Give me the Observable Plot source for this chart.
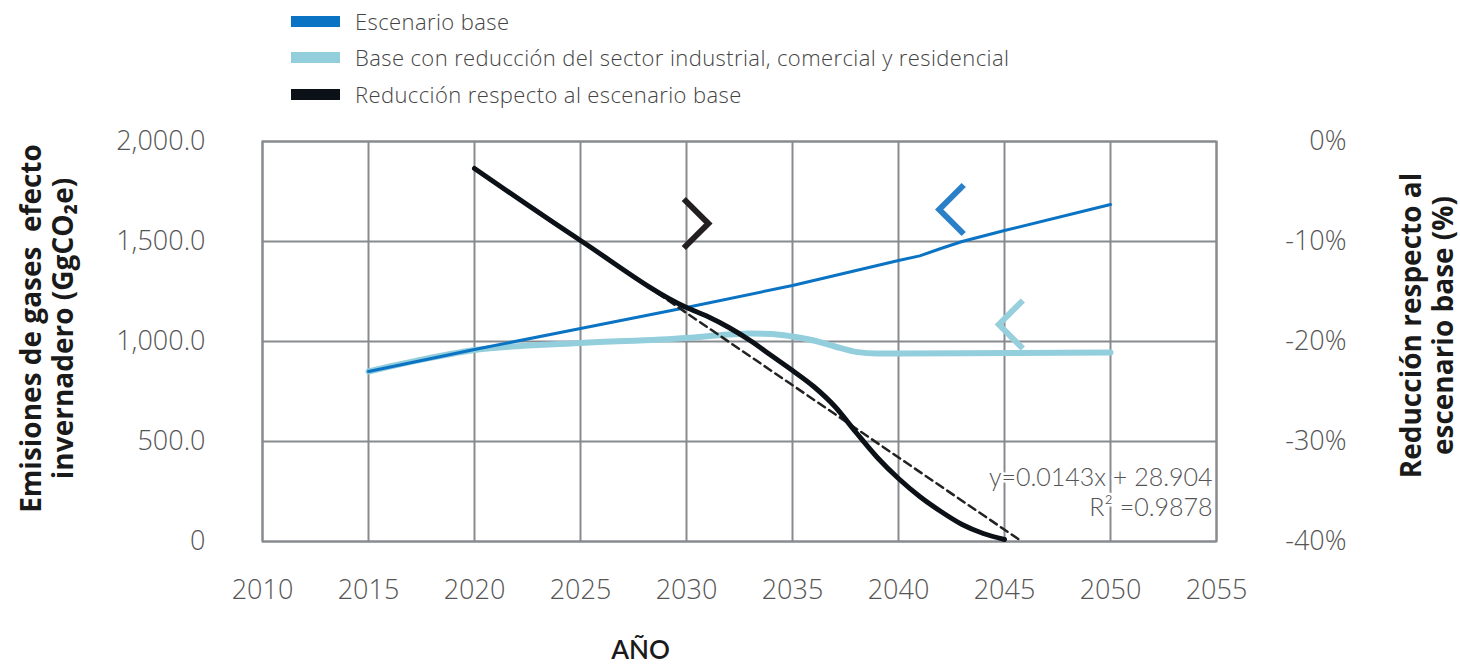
<!DOCTYPE html>
<html>
<head>
<meta charset="utf-8">
<script src="https://cdn.jsdelivr.net/npm/d3@7"></script>
<script src="https://cdn.jsdelivr.net/npm/@observablehq/plot@0.6"></script>
<style>
  html, body { margin: 0; padding: 0; background: #fff; }
  body { width: 1460px; height: 664px; overflow: hidden; font-family: "Open Sans", Lato, sans-serif; }
  #legend { position: relative; height: 115px; width: 1460px; }
  .row { position: absolute; left: 291px; height: 28px; display: flex; align-items: center; }
  .sw { width: 49px; height: 11px; margin-right: 15px; }
  .lab { font-size: 22px; letter-spacing: 0.4px; color: #444; font-weight: 300; white-space: nowrap; }
  #chart svg { display: block; overflow: visible; }
</style>
</head>
<body>
<div id="legend"></div>
<div id="chart"></div>
<script>
// ---- data ----
const seriesNames = [
  "Escenario base",
  "Base con reducción del sector industrial, comercial y residencial",
  "Reducción respecto al escenario base"
];
const baseYears  = [2015, 2020, 2025, 2030, 2035, 2040, 2041, 2042, 2043, 2045, 2050];
const baseValues = [850, 960, 1065, 1170, 1280, 1405, 1428, 1465, 1500, 1555, 1685];

const redYears  = [2015, 2016, 2017, 2018, 2019, 2020, 2025, 2030, 2032, 2033, 2034, 2035, 2036, 2037, 2038, 2039, 2040, 2045, 2050];
const redValues = [850, 875, 898, 920, 940, 958, 992, 1018, 1035, 1040, 1038, 1025, 1005, 975, 948, 940, 940, 942, 945];

const pctYears  = [2020, 2025, 2030, 2031, 2032, 2033, 2034, 2035, 2036, 2037, 2038, 2039, 2040, 2041, 2042, 2043, 2044, 2045];
const pctValues = [-2.7, -9.9, -16.6, -17.5, -18.6, -19.9, -21.4, -22.9, -24.5, -26.5, -29.1, -31.6, -33.7, -35.5, -37.0, -38.3, -39.2, -39.8];

const trendYears  = [2020, 2045.75];
const trendValues = [-2.7, -39.9];

const xTicks   = [2010, 2015, 2020, 2025, 2030, 2035, 2040, 2045, 2050, 2055];
const yTicks   = [0, 500, 1000, 1500, 2000];
const pctTicks = [0, -10, -20, -30, -40];

const equationLines = ["y=0.0143x + 28.904", "R² =0.9878"];
const leftTitle  = "Emisiones de gases  efecto\ninvernadero (GgCO₂e)";
const rightTitle = "Reducción respecto al\nescenario base (%)";
const xTitle = "AÑO";

// chevron annotations (year, left-axis value)
const chevronBlack = {year: 2030.45, value: 1590};
const chevronBlue  = {year: 2042.5,  value: 1660};
const chevronLight = {year: 2045.3,  value: 1085};

// ---- build ----
const colors = ["#0b73c3", "#93cedd", "#0b1117"];
const legend = document.getElementById("legend");
const rowCenters = [21, 57, 94];
seriesNames.forEach((n, i) => {
  const r = document.createElement("div");
  r.className = "row";
  r.style.top = (rowCenters[i] - 14) + "px";
  r.innerHTML = `<div class="sw" style="background:${colors[i]}"></div><div class="lab">${n}</div>`;
  legend.appendChild(r);
});

const pctToY = p => (p + 40) * 50;
const base = baseYears.map((y, i) => ({year: y, v: baseValues[i]}));
const red  = redYears.map((y, i) => ({year: y, v: redValues[i]}));
const pct  = pctYears.map((y, i) => ({year: y, v: pctToY(pctValues[i])}));
const trend = trendYears.map((y, i) => ({year: y, v: pctToY(trendValues[i])}));

const chevR = {draw(ctx, size) { const s = Math.sqrt(size / Math.PI); ctx.moveTo(-s/2, -s); ctx.lineTo(s/2, 0); ctx.lineTo(-s/2, s); }};
const chevL = {draw(ctx, size) { const s = Math.sqrt(size / Math.PI); ctx.moveTo(s/2, -s); ctx.lineTo(-s/2, 0); ctx.lineTo(s/2, s); }};

const grid = "#878b90";
const tickFont = {fontSize: 27, fontWeight: 300, fontFamily: "'Open Sans', Lato, sans-serif"};
const titleFont = {fontSize: 28, fontWeight: 700, fill: "#1a1a1a", fontFamily: "'Open Sans', Lato, sans-serif"};

const chart = Plot.plot({
  width: 1460,
  height: 549,
  marginTop: 26,
  marginBottom: 123,
  marginLeft: 262,
  marginRight: 244,
  x: {domain: [2010, 2055]},
  y: {domain: [0, 2000]},
  style: {fontFamily: "'Open Sans', Lato, sans-serif", color: "#555", background: "#fff", overflow: "visible"},
  marks: [
    Plot.gridX(xTicks, {stroke: grid, strokeOpacity: 1, strokeWidth: 2}),
    Plot.gridY(yTicks, {stroke: grid, strokeOpacity: 1, strokeWidth: 2}),
    Plot.frame({stroke: grid, strokeWidth: 2}),
    Plot.axisX(xTicks, {tickSize: 0, tickPadding: 38, tickFormat: d => String(d), label: null, ...tickFont}),
    Plot.axisY(yTicks, {anchor: "left", tickSize: 0, tickPadding: 57, label: null,
      tickFormat: d => d === 0 ? "0" : d3.format(",.1f")(d), ...tickFont}),
    Plot.axisY(pctTicks.map(pctToY), {anchor: "right", tickSize: 0, tickPadding: 130, textAnchor: "end", label: null,
      tickFormat: d => `${Math.round(d / 50 - 40)}%`, ...tickFont}),
    Plot.line(red, {x: "year", y: "v", stroke: colors[1], strokeWidth: 6, curve: "monotone-x"}),
    Plot.line(base, {x: "year", y: "v", stroke: colors[0], strokeWidth: 3}),
    Plot.line(trend, {x: "year", y: "v", stroke: "#222", strokeWidth: 2.5, strokeDasharray: "8,5"}),
    Plot.line(pct, {x: "year", y: "v", stroke: colors[2], strokeWidth: 5, curve: "monotone-x"}),
    Plot.dot([chevronBlack], {x: "year", y: "value", r: 24.5, symbol: chevR, fill: "none", stroke: "#231f20", strokeWidth: 6, strokeLinejoin: "miter"}),
    Plot.dot([chevronBlue], {x: "year", y: "value", r: 24.5, symbol: chevL, fill: "none", stroke: "#2a80c8", strokeWidth: 6, strokeLinejoin: "miter"}),
    Plot.dot([chevronLight], {x: "year", y: "value", r: 24, symbol: chevL, fill: "none", stroke: "#97cfdd", strokeWidth: 6, strokeLinejoin: "miter"}),
    Plot.text([equationLines.join("\n")], {text: d => d, frameAnchor: "bottom-right", textAnchor: "end", lineAnchor: "middle",
      dx: -4, dy: -50, lineHeight: 1.2, fontSize: 25, fontWeight: 300, fontFamily: "Lato, sans-serif",
      fill: "#555", stroke: "white", strokeWidth: 5, paintOrder: "stroke"}),
    Plot.text([leftTitle], {text: d => d, frameAnchor: "left", textAnchor: "middle", rotate: -90, dx: -216, dy: -13, lineHeight: 1.15,
      ...titleFont}),
    Plot.text([rightTitle], {text: d => d, frameAnchor: "right", textAnchor: "middle", rotate: -90, dx: 210, dy: -16, lineHeight: 1.15,
      ...titleFont}),
    Plot.text([xTitle], {text: d => d, frameAnchor: "bottom", dx: -99, dy: 117,
      fontSize: 26, fontWeight: 600, fill: "#1a1a1a", fontFamily: "Lato, 'Open Sans', sans-serif"})
  ]
});
document.getElementById("chart").appendChild(chart);
</script>
</body>
</html>
